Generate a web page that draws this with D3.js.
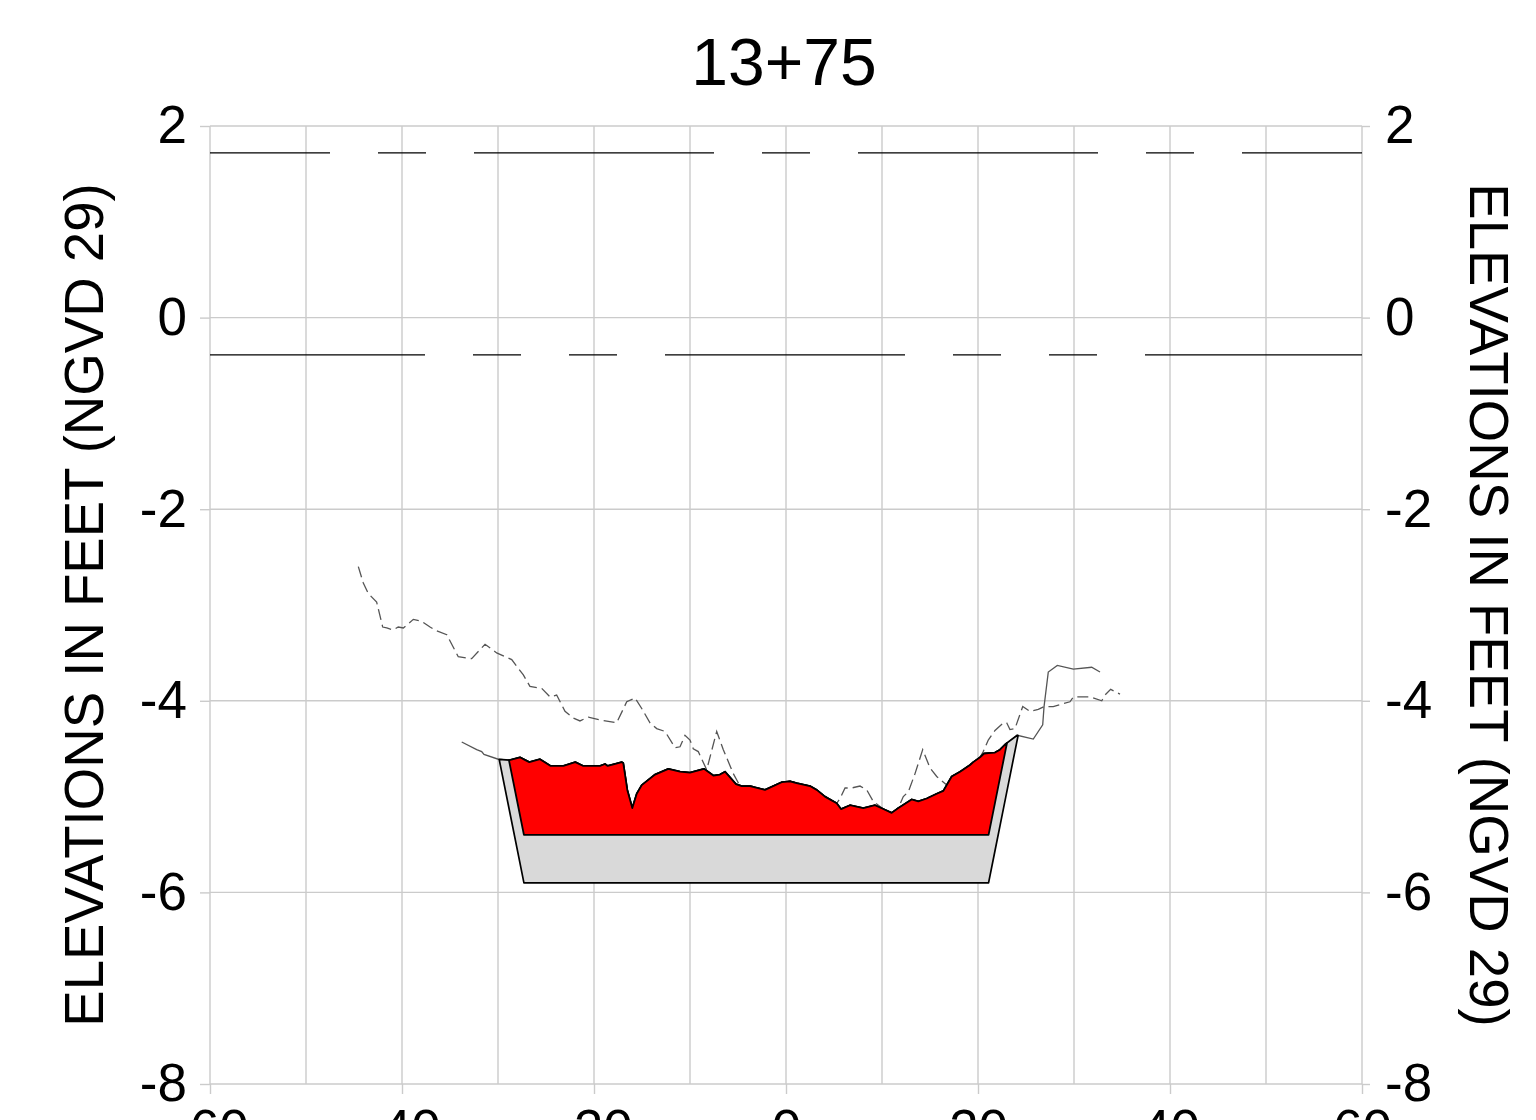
<!DOCTYPE html>
<html>
<head>
<meta charset="utf-8">
<script src="https://cdn.jsdelivr.net/npm/d3@7/dist/d3.min.js"></script>
<style>
  html, body { margin: 0; padding: 0; background: #fff; }
  svg { display: block; }
  text { font-family: "Liberation Sans", Arial, Helvetica, sans-serif; fill: #000; }
</style>
</head>
<body>
<svg id="chart" width="1536" height="1120"></svg>
<script>
// Station 13+75 cross-section: after-dredge ground, prior survey, channel template.

const sectionTitle = "13+75";
const axisLabel = "ELEVATIONS IN FEET (NGVD 29)";

const xTicks = [-60, -40, -20, 0, 20, 40, 60];
const xGrid = [-60, -50, -40, -30, -20, -10, 0, 10, 20, 30, 40, 50, 60];
const yTicks = [-8, -6, -4, -2, 0, 2];

// Survey profile (station ft, elevation ft)
const groundProfile = [
  [-33.78,-4.43],[-32.22,-4.51],[-31.70,-4.53],[-31.46,-4.56],[-29.97,-4.61],[-28.82,-4.62],
  [-27.71,-4.59],[-26.74,-4.64],[-25.63,-4.61],[-24.51,-4.68],[-23.20,-4.68],[-21.95,-4.64],
  [-21.11,-4.68],[-19.38,-4.68],[-18.85,-4.66],[-18.57,-4.68],[-17.11,-4.64],[-16.95,-4.65],
  [-16.53,-4.93],[-16.01,-5.12],[-15.55,-4.97],[-15.03,-4.88],[-13.65,-4.77],[-12.26,-4.71],
  [-11.04,-4.74],[-10.00,-4.75],[-8.54,-4.71],[-7.57,-4.78],[-6.88,-4.77],[-6.35,-4.74],
  [-5.21,-4.87],[-4.61,-4.89],[-3.75,-4.89],[-2.19,-4.93],[-0.45,-4.85],[0.42,-4.84],
  [1.11,-4.86],[2.50,-4.89],[3.20,-4.93],[4.06,-5.00],[5.28,-5.07],[5.73,-5.13],
  [6.67,-5.09],[8.05,-5.12],[9.27,-5.09],[10.14,-5.13],[11.01,-5.17],[11.70,-5.12],
  [13.09,-5.03],[13.78,-5.05],[14.66,-5.02],[15.70,-4.97],[16.39,-4.94],[17.26,-4.79],
  [18.13,-4.74],[19.17,-4.67],[19.51,-4.64],[20.21,-4.59],[20.63,-4.55],[21.77,-4.54],
  [22.29,-4.51],[22.89,-4.45],[24.09,-4.36],[25.76,-4.40],[26.74,-4.25],[26.88,-4.06],
  [27.32,-3.70],[28.26,-3.63],[29.93,-3.67],[31.84,-3.65],[32.71,-3.70]
];

// Prior survey profile (station ft, elevation ft)
const priorProfile = [
  [-44.55,-2.60],[-44.03,-2.77],[-43.51,-2.88],[-42.64,-2.97],[-42.01,-3.23],[-41.59,-3.24],
  [-40.91,-3.26],[-40.39,-3.23],[-39.86,-3.24],[-38.82,-3.15],[-37.95,-3.17],[-37.08,-3.23],
  [-36.39,-3.27],[-35.34,-3.31],[-34.14,-3.54],[-32.74,-3.56],[-31.35,-3.41],[-30.14,-3.50],
  [-28.57,-3.57],[-27.36,-3.73],[-26.67,-3.85],[-25.45,-3.87],[-24.58,-3.96],[-23.89,-3.94],
  [-23.02,-4.11],[-22.16,-4.18],[-21.46,-4.21],[-20.59,-4.17],[-19.38,-4.20],[-17.64,-4.23],
  [-16.59,-4.01],[-15.73,-3.97],[-15.03,-4.08],[-14.17,-4.23],[-13.47,-4.29],[-12.60,-4.32],
  [-11.56,-4.49],[-11.04,-4.48],[-10.52,-4.36],[-10.00,-4.41],[-9.66,-4.50],[-9.14,-4.53],
  [-8.26,-4.72],[-7.22,-4.32],[-6.53,-4.51],[-5.49,-4.76],[-4.79,-4.89],[-3.57,-4.89],
  [-2.19,-4.93],[-0.45,-4.85],[0.42,-4.84],[1.11,-4.86],[2.50,-4.89],[3.20,-4.93],
  [4.06,-5.00],[5.28,-5.07],[5.63,-5.02],[6.15,-4.91],[6.84,-4.91],[7.71,-4.89],
  [8.41,-4.93],[9.09,-5.05],[10.14,-5.13],[11.01,-5.17],[11.70,-5.12],[12.22,-5.00],
  [12.74,-4.95],[13.44,-4.76],[14.24,-4.51],[15.00,-4.70],[15.70,-4.79],[16.74,-4.88],
  [17.26,-4.79],[18.13,-4.74],[19.17,-4.67],[19.51,-4.64],[20.21,-4.59],[20.55,-4.53],
  [21.07,-4.41],[21.77,-4.31],[22.64,-4.23],[22.99,-4.23],[23.33,-4.30],[23.85,-4.29],
  [24.66,-4.06],[25.42,-4.11],[26.28,-4.09],[26.88,-4.06],[27.84,-4.06],[29.58,-4.01],
  [29.93,-3.96],[31.67,-3.96],[32.89,-4.00],[33.23,-3.94],[33.82,-3.88],[34.79,-3.93]
];

// Channel template: bottom stations, design and allowable overdepth grades, side slope (H:V)
const templateBottom = [-27.3, 21.1];
const designGrade = -5.4;
const overdepthGrade = -5.9;
const sideSlope = 2;

// Tidal datum reference levels
const referenceLevels = [1.72, -0.39];

// ---------------------------------------------------------------
const svg = d3.select("#chart");
const x = d3.scaleLinear().domain([-60, 60]).range([210, 1362]);
const y = d3.scaleLinear().domain([-8, 2]).range([1084, 126]);

const gridColor = "#cbcbcb";
const fontSize = 53;
const plainNumber = d => String(d);   // hyphen-minus, not the typographic minus

// grid
svg.append("g").selectAll("line").data(xGrid).join("line")
  .attr("x1", d => x(d)).attr("x2", d => x(d))
  .attr("y1", y(2)).attr("y2", y(-8))
  .attr("stroke", gridColor).attr("stroke-width", 1.4);
svg.append("g").selectAll("line").data(yTicks).join("line")
  .attr("x1", x(-60)).attr("x2", x(60))
  .attr("y1", d => y(d)).attr("y2", d => y(d))
  .attr("stroke", gridColor).attr("stroke-width", 1.4);

// axes
function styleAxis(g) {
  g.select(".domain").remove();
  g.selectAll(".tick line").attr("stroke", gridColor).attr("stroke-width", 1.4);
  g.selectAll(".tick text").style("font-size", fontSize + "px")
    .style("font-family", '"Liberation Sans", Arial, sans-serif').attr("fill", "#000");
}
svg.append("g").attr("transform", `translate(${x(-60)},0)`)
  .call(d3.axisLeft(y).tickValues(yTicks).tickSize(10).tickPadding(13).tickFormat(plainNumber))
  .call(styleAxis);
svg.append("g").attr("transform", `translate(${x(60)},0)`)
  .call(d3.axisRight(y).tickValues(yTicks).tickSize(8).tickPadding(15).tickFormat(plainNumber))
  .call(styleAxis);
svg.append("g").attr("transform", `translate(0,${y(-8)})`)
  .call(d3.axisBottom(x).tickValues(xTicks).tickSize(10).tickPadding(15).tickFormat(plainNumber))
  .call(styleAxis);

// reference levels
const refDash = [
  { dash: "240,48,48,48", offset: 120 },
  { dash: "240,48,48,48,48,48", offset: 25 }
];
svg.append("g").selectAll("line").data(referenceLevels).join("line")
  .attr("x1", x(-60)).attr("x2", x(60))
  .attr("y1", d => y(d)).attr("y2", d => y(d))
  .attr("stroke", "#000").attr("stroke-width", 1.2)
  .attr("stroke-dasharray", (d, i) => refDash[i].dash)
  .attr("stroke-dashoffset", (d, i) => refDash[i].offset);

const line = d3.line().x(d => x(d[0])).y(d => y(d[1]));

// prior survey (dashed)
svg.append("path").datum(priorProfile)
  .attr("d", line).attr("fill", "none")
  .attr("stroke", "#555").attr("stroke-width", 1.3)
  .attr("stroke-dasharray", "11,5");

// current survey
svg.append("path").datum(groundProfile)
  .attr("d", line).attr("fill", "none")
  .attr("stroke", "#555").attr("stroke-width", 1.3);

// template and cut areas
const ground = d3.scaleLinear()
  .domain(groundProfile.map(d => d[0]))
  .range(groundProfile.map(d => d[1]));

function templateElev(s, grade) {
  const [bl, br] = templateBottom;
  if (s < bl) return grade + (bl - s) / sideSlope;
  if (s > br) return grade + (s - br) / sideSlope;
  return grade;
}

function cutRegions(grade) {
  const stations = Array.from(new Set([...groundProfile.map(d => d[0]), ...templateBottom]))
    .sort((a, b) => a - b);
  const pts = stations.map(s => ({ s, g: ground(s), t: templateElev(s, grade) }));
  const regions = [];
  let cur = null;
  pts.forEach((p, i) => {
    const f = p.g - p.t;
    if (i > 0) {
      const q = pts[i - 1], fq = q.g - q.t;
      if ((fq < 0) !== (f < 0)) {
        const k = fq / (fq - f);
        const cs = q.s + k * (p.s - q.s);
        const c = { s: cs, g: ground(cs), t: templateElev(cs, grade) };
        if (f >= 0) { cur = [c]; regions.push(cur); }
        else if (cur) { cur.push(c); cur = null; }
      }
    }
    if (f >= 0) {
      if (!cur) { cur = []; regions.push(cur); }
      cur.push(p);
    }
  });
  return regions;
}

const area = d3.area()
  .x(d => x(d.s))
  .y0(d => y(d.t))
  .y1(d => y(d.g));

svg.append("g").selectAll("path").data(cutRegions(overdepthGrade)).join("path")
  .attr("d", area).attr("fill", "#d9d9d9")
  .attr("stroke", "#000").attr("stroke-width", 1.7).attr("stroke-linejoin", "round");

svg.append("g").selectAll("path").data(cutRegions(designGrade)).join("path")
  .attr("d", area).attr("fill", "#ff0000")
  .attr("stroke", "#000").attr("stroke-width", 1.8).attr("stroke-linejoin", "round");

// title and axis titles
svg.append("text").attr("x", 784).attr("y", 85)
  .attr("text-anchor", "middle").style("font-size", "66px").text(sectionTitle);

const midY = (y(2) + y(-8)) / 2;
svg.append("text").attr("transform", `translate(103,${midY}) rotate(-90)`)
  .attr("text-anchor", "middle").style("font-size", "54.6px").text(axisLabel);
svg.append("text").attr("transform", `translate(1470,${midY}) rotate(90)`)
  .attr("text-anchor", "middle").style("font-size", "54.6px").text(axisLabel);
</script>
</body>
</html>
